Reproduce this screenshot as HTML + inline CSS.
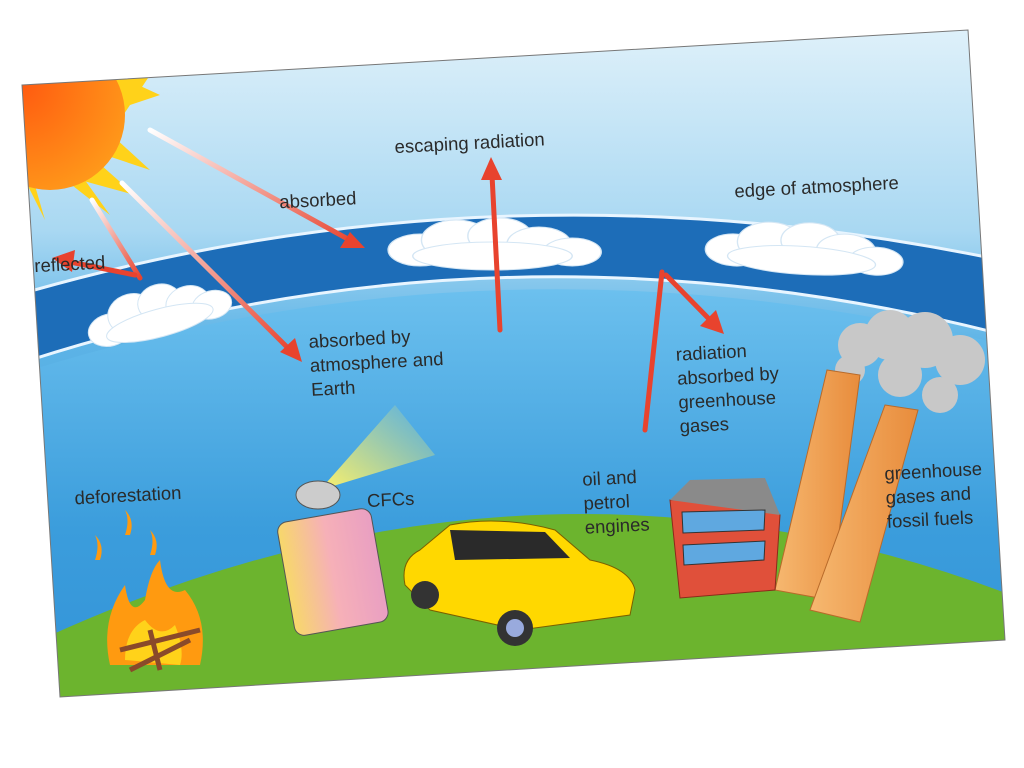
<!DOCTYPE html>
<html><head><meta charset="utf-8"><style>
html,body{margin:0;padding:0;background:#fff;width:1024px;height:768px;overflow:hidden}
svg text{font-family:"Liberation Sans",sans-serif;font-size:18.5px;fill:#2a2a2a}
</style></head><body>
<svg width="1024" height="768" viewBox="0 0 1024 768" xmlns="http://www.w3.org/2000/svg">
<defs>
<clipPath id="card"><polygon points="22,85 968,30 1005,640 60,697"/></clipPath>
<linearGradient id="sky" x1="0" y1="0" x2="0" y2="1">
<stop offset="0" stop-color="#e6f4fb"/><stop offset="0.3" stop-color="#a9d8f2"/><stop offset="0.45" stop-color="#5cb3e6"/><stop offset="1" stop-color="#2e8fd3"/></linearGradient>
<linearGradient id="low" x1="0" y1="0" x2="0" y2="1"><stop offset="0" stop-color="#6cc0ee"/><stop offset="0.5" stop-color="#3b9ddc"/><stop offset="1" stop-color="#2f8fd6"/></linearGradient>
<linearGradient id="ray" x1="0" y1="0" x2="1" y2="1"><stop offset="0" stop-color="#fff"/><stop offset="1" stop-color="#e8432e"/></linearGradient>
<radialGradient id="sun" cx="0.3" cy="0.3" r="0.8"><stop offset="0" stop-color="#ff5a10"/><stop offset="1" stop-color="#ff9a1a"/></radialGradient>
<linearGradient id="can" x1="0" x2="1"><stop offset="0" stop-color="#f7d86a"/><stop offset="0.5" stop-color="#f6b0b8"/><stop offset="1" stop-color="#e99fc2"/></linearGradient>
<linearGradient id="beam" x1="0" y1="1" x2="1" y2="0"><stop offset="0" stop-color="#fff36a"/><stop offset="1" stop-color="#fff36a" stop-opacity="0"/></linearGradient>
<linearGradient id="chim" x1="0" x2="1"><stop offset="0" stop-color="#f6b870"/><stop offset="1" stop-color="#e88c3c"/></linearGradient>
<g id="cloud"><ellipse cx="0" cy="0" rx="22" ry="16"/><ellipse cx="25" cy="-10" rx="24" ry="20"/><ellipse cx="55" cy="-14" rx="22" ry="18"/><ellipse cx="82" cy="-6" rx="22" ry="17"/><ellipse cx="105" cy="2" rx="20" ry="14"/><ellipse cx="50" cy="6" rx="55" ry="14"/></g>
</defs>
<g clip-path="url(#card)">
<rect x="0" y="0" width="1024" height="768" fill="url(#sky)"/>
<path d="M0,300 Q500,150 1024,265 L1024,340 Q500,200 0,370 Z" fill="#1d6db8"/>
<path d="M0,300 Q500,150 1024,265" fill="none" stroke="#e8f5ff" stroke-width="3"/>
<path d="M0,370 Q500,200 1024,340" fill="none" stroke="#e8f5ff" stroke-width="3"/>
<path d="M0,380 Q500,215 1024,350 L1024,768 L0,768 Z" fill="url(#low)"/>
<path d="M40,640 Q540,410 1024,600 L1024,768 L0,768 Z" fill="#6cb42e"/>
<g fill="#ffd21a">
<polygon points="40,40 160,95 70,125"/><polygon points="30,60 150,170 60,140"/><polygon points="20,90 110,215 40,160"/><polygon points="10,100 45,220 20,170"/><polygon points="60,40 150,75 120,120"/><polygon points="50,120 135,195 80,180"/>
</g>
<circle cx="50" cy="115" r="75" fill="url(#sun)"/>
<g fill="#fff" stroke="#d4e6f4" stroke-width="1">
<use href="#cloud" transform="translate(110,330) rotate(-15)"/>
<use href="#cloud" transform="translate(420,250) scale(1.45,1)"/>
<use href="#cloud" transform="translate(735,250) scale(1.35,1) rotate(5)"/>
</g>
<g stroke-width="5" fill="none" stroke-linecap="round">
<line x1="150" y1="130" x2="355" y2="243" stroke="url(#ray)"/>
<line x1="122" y1="183" x2="292" y2="352" stroke="url(#ray)"/>
<line x1="92" y1="200" x2="140" y2="278" stroke="url(#ray)"/>
<line x1="135" y1="275" x2="70" y2="262" stroke="#e8432e"/>
<line x1="500" y1="330" x2="492" y2="175" stroke="#e8432e"/>
<line x1="645" y1="430" x2="662" y2="272" stroke="#e8432e"/>
<line x1="666" y1="275" x2="712" y2="322" stroke="#e8432e"/>
</g>
<g fill="#e8432e">
<polygon points="365,248 340,248 350,232"/>
<polygon points="302,362 280,352 295,338"/>
<polygon points="52,258 75,250 72,272"/>
<polygon points="491,157 481,180 502,180"/>
<polygon points="724,334 700,326 716,310"/>
</g>
<g fill="#c8c8c8"><circle cx="860" cy="345" r="22"/><circle cx="890" cy="335" r="25"/><circle cx="925" cy="340" r="28"/><circle cx="960" cy="360" r="25"/><circle cx="900" cy="375" r="22"/><circle cx="850" cy="370" r="15"/><circle cx="940" cy="395" r="18"/></g>
<polygon points="827,370 860,375 830,600 775,590" fill="url(#chim)" stroke="#b86a2a"/>
<polygon points="885,405 918,410 860,622 810,610" fill="url(#chim)" stroke="#b86a2a"/>
<polygon points="670,500 760,495 780,515 775,590 680,598" fill="#e0503a" stroke="#8a2a1a"/>
<polygon points="670,500 690,480 765,478 780,515" fill="#8a8a8a"/>
<polygon points="682,512 765,510 764,530 683,533" fill="#5fa8e0" stroke="#333"/>
<polygon points="683,545 765,541 764,560 684,565" fill="#5fa8e0" stroke="#333"/>
<polygon points="320,490 395,405 435,455" fill="url(#beam)"/>
<rect x="285" y="515" width="95" height="115" rx="10" fill="url(#can)" stroke="#555" transform="rotate(-10 330 570)"/>
<ellipse cx="318" cy="495" rx="22" ry="14" fill="#ccc" stroke="#555"/>
<path d="M405,585 Q400,560 420,550 L450,525 Q500,515 555,530 L590,560 Q630,568 635,590 L630,615 L520,630 L430,610 Z" fill="#ffd800" stroke="#7a6000"/>
<path d="M450,530 L545,532 L570,558 L455,560 Z" fill="#2a2a2a"/>
<circle cx="425" cy="595" r="14" fill="#333"/><circle cx="515" cy="628" r="18" fill="#333"/><circle cx="515" cy="628" r="9" fill="#9ad"/>
<path d="M110,665 Q100,620 125,585 Q130,620 145,600 Q150,570 160,560 Q165,600 185,590 Q210,620 200,665 Z" fill="#ff9a10"/>
<path d="M125,660 Q125,630 145,620 Q160,640 175,625 Q185,650 180,665 Z" fill="#ffd21a"/>
<g stroke="#8a4a2a" stroke-width="5"><line x1="120" y1="650" x2="200" y2="630"/><line x1="130" y1="670" x2="190" y2="640"/><line x1="150" y1="630" x2="160" y2="670"/></g>
<g fill="#ff9a10"><path d="M95,560 q5,-15 0,-25 q10,10 5,25z"/><path d="M125,535 q5,-15 0,-25 q10,10 5,25z"/><path d="M150,555 q5,-15 0,-25 q10,10 5,25z"/></g>
</g>
<polygon points="22,85 968,30 1005,640 60,697" fill="none" stroke="#777" stroke-width="1"/>
<g transform="rotate(-3 500 400)">
<text x="290" y="197">absorbed</text>
<text x="408" y="148">escaping radiation</text>
<text x="745" y="210">edge of atmosphere</text>
<text x="42" y="248">reflected</text>
<text x="312" y="338">absorbed by</text><text x="312" y="362">atmosphere and</text><text x="312" y="386">Earth</text>
<text x="678" y="370">radiation</text><text x="678" y="394">absorbed by</text><text x="678" y="418">greenhouse</text><text x="678" y="442">gases</text>
<text x="70" y="482">deforestation</text>
<text x="362" y="500">CFCs</text>
<text x="578" y="490">oil and</text><text x="578" y="514">petrol</text><text x="578" y="538">engines</text>
<text x="880" y="500">greenhouse</text><text x="880" y="524">gases and</text><text x="880" y="548">fossil fuels</text>
</g>
</svg>
</body></html>
